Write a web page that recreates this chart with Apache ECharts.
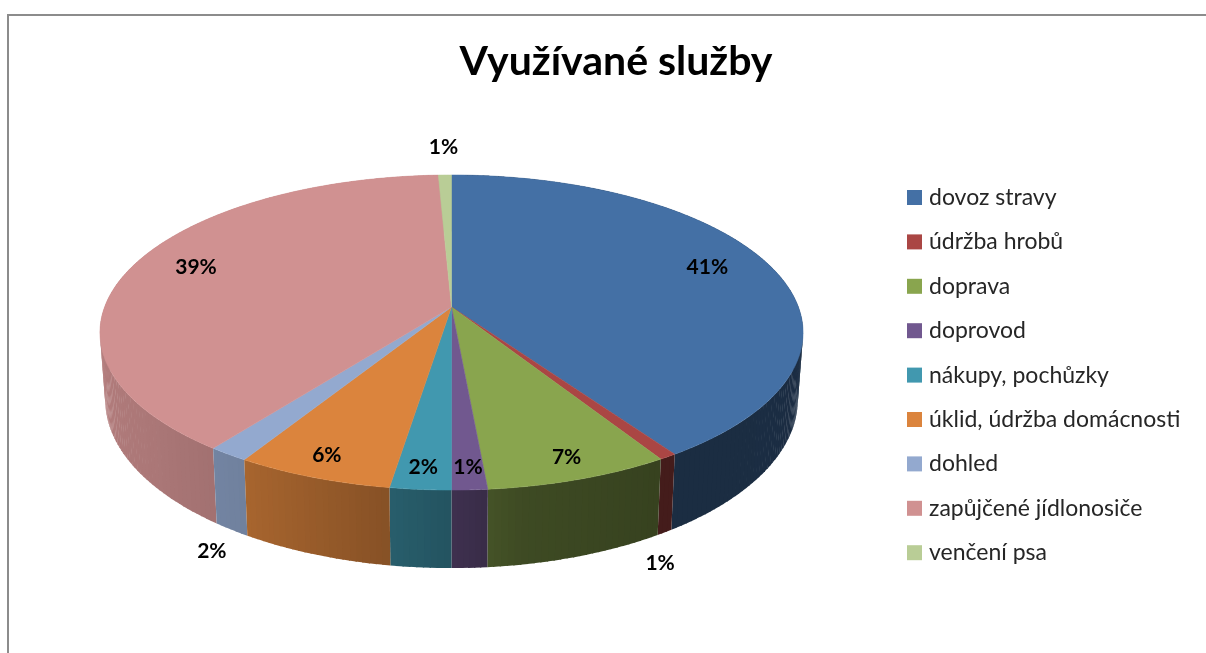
<!DOCTYPE html>
<html>
<head>
<meta charset="utf-8">
<script src="https://cdn.jsdelivr.net/npm/echarts@6/dist/echarts.min.js"></script>
<style>
  html, body { margin: 0; padding: 0; background: #fff; }
  #chart { width: 1206px; height: 653px; }
</style>
</head>
<body>
<div id="chart"></div>
<script>
const categories = ['dovoz stravy', 'údržba hrobů', 'doprava', 'doprovod', 'nákupy, pochůzky',
  'úklid, údržba domácnosti', 'dohled', 'zapůjčené jídlonosiče', 'venčení psa']
// shares in %
const values = [40.6, 0.7, 7.3, 1.4, 2.4, 6.2, 1.6, 39.1, 0.7]
const colors = ['#4470a5', '#aa4644', '#89a54e', '#71588f', '#4198af', '#db843d', '#93a9cf', '#d09191', '#b9cd96']
// slices whose label Excel put outside the pie
const outsideLabels = ['údržba hrobů', 'dohled', 'venčení psa']

// 3d pie projection (perspective ellipse)
const CX = 451.5, CY = 307, RA = 346.9, RB = 153.4, K = 0.162, DEPTH = 65.4, SB = 0.985
const FONT = 'Lato, "Open Sans", sans-serif'

const total = values.reduce((a, b) => a + b, 0)
const starts = []
values.reduce((acc, v) => { starts.push(acc); return acc + v }, 0)

function proj(theta, r, bottom) {
  const X = r * Math.sin(theta), Z = -r * Math.cos(theta)
  const den = 1 - K * Z
  return [CX + RA * X * (bottom ? SB : 1) / den, CY + (RB * Z + (bottom ? DEPTH : 0)) / den]
}

// side wall brightness by angle (light from the left)
const shadeSteps = [[0, 0.42], [150, 0.40], [170, 0.45], [180, 0.55], [195, 0.66], [210, 0.76], [230, 0.82], [270, 0.88], [360, 0.9]]
function shadeFactor(deg) {
  for (let i = 1; i < shadeSteps.length; i++) {
    const [d1, f1] = shadeSteps[i], [d0, f0] = shadeSteps[i - 1]
    if (deg <= d1) return f0 + (f1 - f0) * (deg - d0) / (d1 - d0)
  }
  return 0.9
}
function shade(hex, f) {
  const n = parseInt(hex.slice(1), 16)
  const r = Math.round(((n >> 16) & 255) * f), g = Math.round(((n >> 8) & 255) * f), b = Math.round((n & 255) * f)
  return `rgb(${r},${g},${b})`
}

function sliceAngles(i, value) {
  const a0 = starts[i] / total * Math.PI * 2
  const a1 = (starts[i] + value) / total * Math.PI * 2
  return [a0, a1]
}

function renderSide(params, api) {
  const i = params.dataIndex
  const [a0, a1] = sliceAngles(i, api.value(0))
  const steps = Math.max(1, Math.ceil((a1 - a0) / (Math.PI / 180)))
  const overlap = Math.PI / 900
  const children = []
  for (let s = 0; s < steps; s++) {
    const ta = a0 + (a1 - a0) * s / steps
    const tb = a0 + (a1 - a0) * (s + 1) / steps + (s < steps - 1 ? overlap : 0)
    const mid = (ta + tb) / 2
    const fill = shade(colors[i], shadeFactor(mid * 180 / Math.PI))
    children.push({
      type: 'polygon',
      z2: Math.round(-Math.cos(mid) * 100) + 100,
      shape: { points: [proj(ta, 1, false), proj(tb, 1, false), proj(tb, 1, true), proj(ta, 1, true)] },
      style: { fill }
    })
  }
  return { type: 'group', children }
}

function renderTop(params, api) {
  const i = params.dataIndex
  const [a0, a1] = sliceAngles(i, api.value(0))
  const steps = Math.max(2, Math.ceil((a1 - a0) / (Math.PI / 360)))
  const pts = [[CX, CY]]
  for (let s = 0; s <= steps; s++) pts.push(proj(a0 + (a1 - a0) * s / steps, 1, false))

  const mid = (a0 + a1) / 2
  const X = Math.sin(mid), Z = -Math.cos(mid)
  let lx, ly
  if (outsideLabels.includes(categories[i])) {
    if (Z > 0) {
      // below the front wall
      const anchor = proj(mid, 1, true)
      lx = anchor[0] + 14 * X - 12
      ly = anchor[1] + 26 + 8 * X
    } else {
      const anchor = proj(mid, 1, false)
      const dx = X * RA, dy = Z * RB, len = Math.hypot(dx, dy)
      lx = anchor[0] + dx / len * 28
      ly = anchor[1] + dy / len * 28
    }
  } else {
    const p = proj(mid, 0.8 + 0.12 * Math.max(0, Z), false)
    lx = p[0]; ly = p[1] - 5
  }
  const pct = Math.round(api.value(0) / total * 100) + '%'
  return {
    type: 'group',
    children: [
      { type: 'polygon', shape: { points: pts }, style: { fill: colors[i], stroke: colors[i], lineWidth: 0.5 } },
      {
        type: 'text', z2: 50,
        style: { text: pct, x: lx, y: ly, align: 'center', verticalAlign: 'middle',
          fontFamily: FONT, fontWeight: 'bold', fontSize: 21, fill: '#000' }
      }
    ]
  }
}

const sliceData = values.map((v, i) => ({ name: categories[i], value: v }))

const chart = echarts.init(document.getElementById('chart'))
chart.setOption({
  animation: false,
  color: colors,
  title: {
    text: 'Využívané služby',
    left: 611, top: 36, textAlign: 'center',
    textStyle: { fontFamily: FONT, fontWeight: 'bold', fontSize: 41, color: '#000' }
  },
  legend: {
    orient: 'vertical', left: 902, top: 181, icon: 'rect',
    itemWidth: 15, itemHeight: 15, itemGap: 21.4,
    data: categories,
    textStyle: { fontFamily: FONT, fontSize: 23, color: '#262626', padding: [0, 0, 0, 2] }
  },
  graphic: [{
    type: 'rect', silent: true,
    shape: { x: 8, y: 15, width: 1300, height: 700 },
    style: { fill: 'none', stroke: '#8c8c8c', lineWidth: 2 }
  }],
  series: [
    {
      // only feeds the legend with slice names
      type: 'pie', radius: [0, 1], center: [-50, -50], silent: true,
      label: { show: false }, labelLine: { show: false },
      data: sliceData
    },
    { type: 'custom', name: 'side', coordinateSystem: 'none', z: 2, renderItem: renderSide, data: sliceData, silent: true },
    { type: 'custom', name: 'top', coordinateSystem: 'none', z: 3, renderItem: renderTop, data: sliceData, silent: true }
  ]
})
</script>
</body>
</html>
